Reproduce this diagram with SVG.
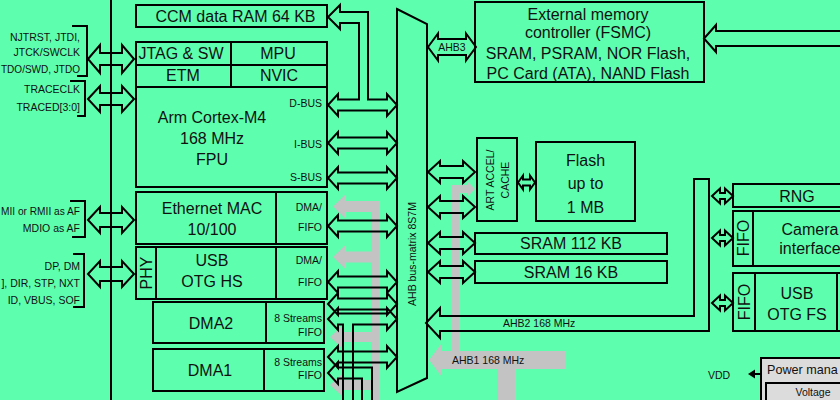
<svg xmlns="http://www.w3.org/2000/svg" width="840" height="400" viewBox="0 0 840 400">
<style>
.box{fill:none;stroke:#000;stroke-width:2}
.ln{fill:none;stroke:#000;stroke-width:2}
.arr{fill:none;stroke:#000;stroke-width:2;stroke-linejoin:miter}
.g{fill:#c3c3c3;stroke:none}
text{font-family:"Liberation Sans",Arial,sans-serif;fill:#111}
.b{font-size:16px}
.s{font-size:10.5px}
.m{text-anchor:middle}
.e{text-anchor:end}
</style>
<rect x="0" y="0" width="840" height="400" fill="#5dffae"/>

<g id="grey-buses">
<rect class="g" x="371" y="201" width="8" height="199"/>
<polygon class="g" points="333,206.5 345,195 345,201 379,201 379,212 345,212 345,218"/>
<polygon class="g" points="333,257 345,245.5 345,251.5 371,251.5 371,262.5 345,262.5 345,268.5"/>
<polygon class="g" points="330,337 342,326 342,332 371,332 371,342 342,342 342,348"/>
<polygon class="g" points="330,385 342,374 342,380 371,380 371,390 342,390 342,396"/>
<rect class="g" x="452" y="185" width="7" height="170"/>
<rect class="g" x="452" y="185" width="16" height="8"/>
<polygon class="g" points="467,181 475,189 467,197"/>
<polygon class="g" points="429,360 442,343 442,351 566,351 566,369 515,369 515,400 497,400 497,369 442,369 442,377"/>
</g>

<g id="connectors">
<line class="ln" x1="111" y1="0" x2="111" y2="400"/>
<path class="ln" d="M72,26 H87 V76 H77"/>
<path class="ln" d="M70,81 H85 V116 H77"/>
<path class="ln" d="M70,201 H85 V237 H72"/>
<path class="ln" d="M73,254 H84 V307 H73"/>
<path class="arr" d="M88,59 L100,45 L100,53 L122,53 L122,45 L134,59 L122,73 L122,65 L100,65 L100,73 Z"/>
<path class="arr" d="M88,99 L100,86 L100,93 L122,93 L122,86 L134,99 L122,112 L122,105 L100,105 L100,112 Z"/>
<path class="arr" d="M88,220 L100,207 L100,213 L122,213 L122,207 L134,220 L122,233 L122,227 L100,227 L100,233 Z"/>
<path class="arr" d="M88,274 L100,261 L100,267 L122,267 L122,261 L134,274 L122,287 L122,281 L100,281 L100,287 Z"/>

<path class="arr" d="M328,105 L338,94 L338,99.5 L359,99.5 L359,23 L340,23 L340,29 L328,17 L340,5 L340,12 L368,12 L368,99.5 L387,99.5 L387,94 L397,105 L387,116 L387,110.5 L338,110.5 L338,116 Z"/>
<path class="arr" d="M328,143 L338,132 L338,137.5 L387,137.5 L387,132 L397,143 L387,154 L387,148.5 L338,148.5 L338,154 Z"/>
<path class="arr" d="M328,178 L338,167 L338,172.5 L387,172.5 L387,167 L397,178 L387,189 L387,183.5 L338,183.5 L338,189 Z"/>
<path class="arr" d="M328,226 L338,215 L338,220.5 L387,220.5 L387,215 L397,226 L387,237 L387,231.5 L338,231.5 L338,237 Z"/>
<path class="arr" d="M328,282 L338,271 L338,276.5 L387,276.5 L387,271 L397,282 L387,293 L387,287.5 L338,287.5 L338,293 Z"/>
<path class="arr" d="M328,304 L338,293 L338,298.5 L387,298.5 L387,293 L397,304 L387,315 L387,309.5 L338,309.5 L338,315 Z"/>
<path class="arr" d="M343,400 L343,324.5 L338,324.5 L338,330 L328,319 L338,308 L338,313.5 L387,313.5 L387,308 L397,319 L387,330 L387,324.5 L353,324.5 L353,400"/>
<path class="arr" d="M328,357 L338,346 L338,351.5 L387,351.5 L387,346 L397,357 L387,368 L387,362.5 L338,362.5 L338,368 Z"/>
<path class="arr" d="M362,400 L362,378.5 L338,378.5 L338,384 L328,373 L338,362 L338,367.5 L372,367.5 L372,400"/>

<path class="arr" d="M428,47 L438,33.5 L438,39 L466,39 L466,33.5 L476,47 L466,60.5 L466,55 L438,55 L438,60.5 Z"/>
<path class="arr" d="M840,31 L716,31 L716,25 L704,38.5 L716,52 L716,46 L840,46"/>
<path class="arr" d="M428,172 L440,161 L440,166 L463,166 L463,161 L475,172 L463,183 L463,178 L440,178 L440,183 Z"/>
<path class="arr" d="M428,207 L440,196 L440,201 L463,201 L463,196 L475,207 L463,218 L463,213 L440,213 L440,218 Z"/>
<path class="arr" d="M428,243 L440,232 L440,237 L463,237 L463,232 L475,243 L463,254 L463,249 L440,249 L440,254 Z"/>
<path class="arr" d="M428,272 L440,261 L440,266 L463,266 L463,261 L475,272 L463,283 L463,278 L440,278 L440,283 Z"/>
<path class="arr" d="M518,182.5 L523,175.5 L523,179.5 L530,179.5 L530,175.5 L535,182.5 L530,189.5 L530,185.5 L523,185.5 L523,189.5 Z"/>
<path class="arr" d="M426,323 L440,308 L440,316 L694,316 L694,179 L709,179 L709,331 L440,331 L440,338 Z"/>
<path class="arr" d="M712,196 L720,188.5 L720,193 L725,193 L725,188.5 L733,196 L725,203.5 L725,199 L720,199 L720,203.5 Z"/>
<path class="arr" d="M712,238 L720,230.5 L720,235 L725,235 L725,230.5 L733,238 L725,245.5 L725,241 L720,241 L720,245.5 Z"/>
<path class="arr" d="M712,303 L720,295.5 L720,300 L725,300 L725,295.5 L733,303 L725,310.5 L725,306 L720,306 L720,310.5 Z"/>
<line class="ln" x1="761" y1="374" x2="753" y2="374"/>
<polygon points="748,374 755,369.5 755,378.5" fill="#000"/>
</g>

<g id="left-signals">
<text class="s e" x="80" y="41">NJTRST, JTDI,</text>
<text class="s e" x="80" y="56">JTCK/SWCLK</text>
<text class="s" x="1" y="73" textLength="79" lengthAdjust="spacingAndGlyphs">TDO/SWD, JTDO</text>
<text class="s e" x="80" y="93">TRACECLK</text>
<text class="s e" x="80" y="111">TRACED[3:0]</text>
<text class="s" x="1" y="215" textLength="79" lengthAdjust="spacingAndGlyphs">MII or RMII as AF</text>
<text class="s e" x="80" y="232">MDIO as AF</text>
<text class="s e" x="80" y="270">DP, DM</text>
<text class="s e" x="80" y="287">], DIR, STP, NXT</text>
<text class="s e" x="80" y="304">ID, VBUS, SOF</text>
</g>

<g id="ccm">
<rect class="box" x="136" y="5" width="191" height="22"/>
<text class="b m" x="235.5" y="22">CCM data RAM 64 KB</text>
</g>

<g id="cortex">
<rect class="box" x="136" y="42" width="191" height="145"/>
<line class="ln" x1="136" y1="65" x2="327" y2="65"/>
<line class="ln" x1="136" y1="87" x2="327" y2="87"/>
<line class="ln" x1="231" y1="42" x2="231" y2="87"/>
<text class="b m" x="181" y="59">JTAG &amp; SW</text>
<text class="b m" x="278" y="59">MPU</text>
<text class="b m" x="183" y="81">ETM</text>
<text class="b m" x="279" y="81">NVIC</text>
<text class="b m" x="212" y="123">Arm Cortex-M4</text>
<text class="b m" x="212" y="144">168 MHz</text>
<text class="b m" x="212" y="165">FPU</text>
<text class="s e" x="322" y="107">D-BUS</text>
<text class="s e" x="322" y="148">I-BUS</text>
<text class="s e" x="322" y="181">S-BUS</text>
</g>

<g id="ethernet">
<rect class="box" x="136" y="192" width="191" height="52"/>
<line class="ln" x1="276" y1="192" x2="276" y2="244"/>
<text class="b m" x="212" y="214">Ethernet MAC</text>
<text class="b m" x="212" y="235">10/100</text>
<text class="s e" x="322" y="211">DMA/</text>
<text class="s e" x="322" y="231">FIFO</text>
</g>

<g id="usb-hs">
<rect class="box" x="136" y="247" width="191" height="52"/>
<line class="ln" x1="156" y1="247" x2="156" y2="299"/>
<line class="ln" x1="276" y1="247" x2="276" y2="299"/>
<text class="b m" transform="rotate(-90 146 273)" x="146" y="279">PHY</text>
<text class="b m" x="212" y="266">USB</text>
<text class="b m" x="212" y="287">OTG HS</text>
<text class="s e" x="322" y="264">DMA/</text>
<text class="s e" x="322" y="286">FIFO</text>
</g>

<g id="dma2">
<rect class="box" x="153" y="302" width="171" height="41"/>
<line class="ln" x1="266" y1="302" x2="266" y2="343"/>
<text class="b m" x="211" y="329">DMA2</text>
<text class="s e" x="322" y="322">8 Streams</text>
<text class="s e" x="322" y="336">FIFO</text>
</g>

<g id="dma1">
<rect class="box" x="153" y="349" width="171" height="42"/>
<line class="ln" x1="264" y1="349" x2="264" y2="391"/>
<text class="b m" x="210" y="376">DMA1</text>
<text class="s e" x="322" y="366">8 Streams</text>
<text class="s e" x="322" y="379">FIFO</text>
</g>

<g id="bus-matrix">
<polygon class="box" points="397,9 427,24 427,378 397,392"/>
<text class="s m" transform="rotate(-90 412 254)" x="412" y="258">AHB bus-matrix 8S7M</text>
<text class="s m" x="452" y="51">AHB3</text>
<text class="s" x="503" y="327">AHB2 168 MHz</text>
<text class="s" x="452" y="364">AHB1 168 MHz</text>
</g>

<g id="fsmc">
<rect class="box" x="475" y="2" width="229" height="80"/>
<text class="b m" x="588" y="20">External memory</text>
<text class="b m" x="588" y="38">controller (FSMC)</text>
<text class="b m" x="588" y="59">SRAM, PSRAM, NOR Flash,</text>
<text class="b m" x="588" y="79">PC Card (ATA), NAND Flash</text>
</g>

<g id="art">
<rect class="box" x="477" y="138" width="40" height="83"/>
<text class="s m" transform="rotate(-90 490 180)" x="490" y="184">ART ACCEL/</text>
<text class="s m" transform="rotate(-90 505 180)" x="505" y="184">CACHE</text>
</g>

<g id="flash">
<rect class="box" x="536" y="142" width="99" height="79"/>
<text class="b m" x="585.5" y="166">Flash</text>
<text class="b m" x="585.5" y="189">up to</text>
<text class="b m" x="585.5" y="213">1 MB</text>
</g>

<g id="sram112">
<rect class="box" x="475" y="233" width="192" height="21"/>
<text class="b m" x="571" y="249">SRAM 112 KB</text>
</g>

<g id="sram16">
<rect class="box" x="475" y="261" width="192" height="22"/>
<text class="b m" x="571" y="278">SRAM 16 KB</text>
</g>

<g id="rng">
<rect class="box" x="733" y="184" width="120" height="23"/>
<text class="b m" x="797" y="202">RNG</text>
</g>

<g id="camera">
<rect class="box" x="733" y="211" width="120" height="55"/>
<line class="ln" x1="753" y1="211" x2="753" y2="266"/>
<text class="b m" transform="rotate(-90 743 238)" x="743" y="244">FIFO</text>
<text class="b m" x="810" y="235">Camera</text>
<text class="b m" x="810" y="254">interface</text>
</g>

<g id="usb-fs">
<rect class="box" x="733" y="273" width="120" height="58"/>
<line class="ln" x1="755" y1="273" x2="755" y2="331"/>
<line class="ln" x1="837" y1="273" x2="837" y2="331"/>
<text class="b m" transform="rotate(-90 744 302)" x="744" y="308">FIFO</text>
<text class="b m" x="797" y="299">USB</text>
<text class="b m" x="797" y="320">OTG FS</text>
</g>

<g id="power">
<rect x="761" y="358" width="100" height="60" fill="#dcdcdc" stroke="#000" stroke-width="2"/>
<rect x="766" y="383" width="90" height="30" fill="#dcdcdc" stroke="#000" stroke-width="2"/>
<text x="767" y="374" font-size="12.6px">Power mana</text>
<text class="m s" x="813" y="396">Voltage</text>
<text class="s" x="708" y="379">VDD</text>
</g>
</svg>
